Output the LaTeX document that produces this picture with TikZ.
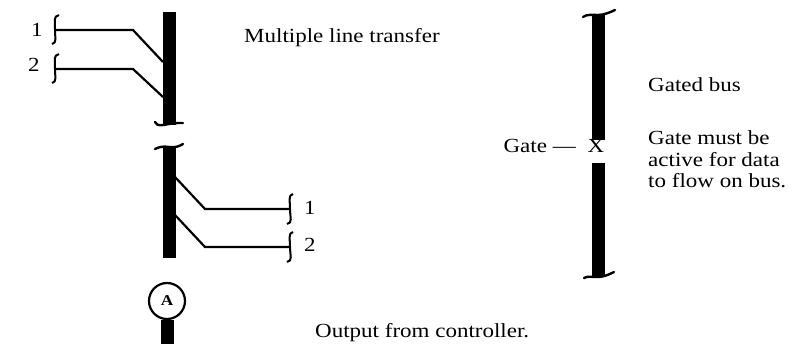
\documentclass[tikz,border=0pt]{standalone}
\usepackage{fontspec}
\setmainfont{Liberation Serif}[FakeStretch=1.15]

\begin{document}
\begin{tikzpicture}[x=1pt,y=-1pt,
  bus/.style={line width=13pt},
  wire/.style={line width=2.2pt},
  curl/.style={line width=2pt},
  tilde/.style={line width=2.4pt,line cap=round},
  lbl/.style={font=\fontsize{20}{21}\selectfont,inner sep=0pt,anchor=base west}]

  \useasboundingbox (0,0) rectangle (805,344);

  % multiple line transfer, in
  \coordinate (ut) at (169,12);
  \coordinate (ub) at (169,125);
  \coordinate (in1) at (55,30);
  \coordinate (kn1) at (133,30);
  \coordinate (jn1) at (163,62);
  \coordinate (in2) at (55,69);
  \coordinate (kn2) at (133,69);
  \coordinate (jn2) at (163,97);
  \draw[bus] (ut) -- (ub);
  \draw[tilde] (ub) ++(-14,-3) .. controls +(2,5) and +(-6,1) .. ++(14,2) .. controls +(6,-1) .. ++(14,-1);
  \draw[wire] (in1) -- (kn1) -- (jn1);
  \draw[wire] (in2) -- (kn2) -- (jn2);
  \draw[curl] (in1) ++(4,-15) .. controls +(-6,1) and +(0,-8) .. (in1) .. controls +(0,8) and +(5,-1) .. ++(-3,14);
  \draw[curl] (in2) ++(4,-15) .. controls +(-6,1) and +(0,-8) .. (in2) .. controls +(0,8) and +(5,-1) .. ++(-3,14);
  \node[lbl] (one) at (31,37) {1};
  \node[lbl] (two) at (28,72) {2};
  \node[lbl] (mlt) at (244,43) {Multiple line transfer};

  % multiple line transfer, out
  \coordinate (lt) at (169,148);
  \coordinate (lb) at (169,258);
  \coordinate (jo1) at (175,177);
  \coordinate (ko1) at (205,209);
  \coordinate (out1) at (290,209);
  \coordinate (jo2) at (175,215);
  \coordinate (ko2) at (205,247);
  \coordinate (out2) at (290,247);
  \draw[bus] (lt) -- (lb);
  \draw[tilde] (lt) ++(-14,1) .. controls +(4,-2) and +(-6,-1) .. ++(14,-2) .. controls +(6,1) and +(-3,2) .. ++(14,-3);
  \draw[wire] (jo1) -- (ko1) -- (out1);
  \draw[wire] (jo2) -- (ko2) -- (out2);
  \draw[curl] (out1) ++(3,-15) .. controls +(-5,1) and +(0,-8) .. (out1) .. controls +(0,8) and +(6,-1) .. ++(-3,15);
  \draw[curl] (out2) ++(3,-15) .. controls +(-5,1) and +(0,-8) .. (out2) .. controls +(0,8) and +(6,-1) .. ++(-3,15);
  \node[lbl] (oneo) at (304,215) {1};
  \node[lbl] (twoo) at (304,252) {2};

  % output from controller
  \node[circle,draw,line width=2.2pt,minimum size=36pt,inner sep=0pt,
    font=\fontsize{15}{15}\selectfont\bfseries] (ctl) at (167,301) {A};
  \coordinate (cb) at (167,344);
  \draw[bus] (ctl.south) -- (cb);
  \node[lbl] (ofc) at (315,337) {Output from controller.};

  % gated bus
  \coordinate (gt) at (598,14);
  \coordinate (gm) at (598,140);
  \coordinate (gn) at (598,163);
  \coordinate (gb) at (598,276);
  \draw[bus] (gt) -- (gm);
  \draw[bus] (gn) -- (gb);
  \draw[tilde] (gt) ++(-15,3) .. controls +(4,-3) and +(-6,0) .. ++(15,-2) .. controls +(6,0) and +(-4,2) .. ++(17,-5);
  \draw[tilde] (gb) ++(-14,2) .. controls +(3,-2) and +(-6,0) .. ++(14,-1) .. controls +(6,0) and +(-4,2) .. ++(16,-5);
  \node[lbl,anchor=base] (gx) at (596,153) {X};
  \node[lbl,anchor=base east] (gate) at (576,153) {Gate ---};
  \node[lbl] (gbus) at (648,92) {Gated bus};
  \node[lbl] (gd1) at (648,145) {Gate must be};
  \node[lbl] (gd2) at (648,167) {active for data};
  \node[lbl] (gd3) at (648,188) {to flow on bus.};

\end{tikzpicture}
\end{document}
